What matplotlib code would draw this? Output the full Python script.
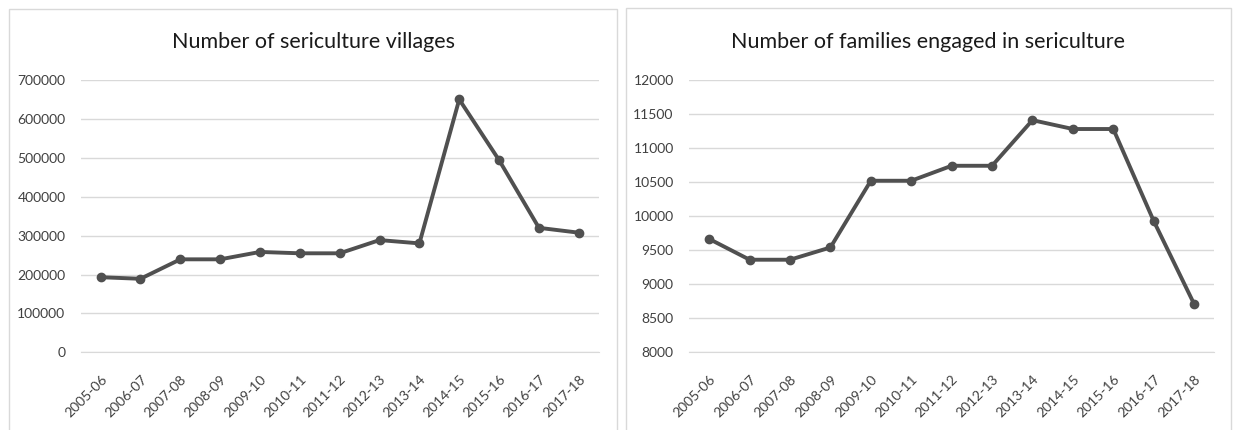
import matplotlib
matplotlib.use("Agg")
import matplotlib.pyplot as plt
from matplotlib.patches import Rectangle

years = ["2005-06", "2006-07", "2007-08", "2008-09", "2009-10", "2010-11", "2011-12",
         "2012-13", "2013-14", "2014-15", "2015-16", "2016-17", "2017-18"]
villages = [193000, 189000, 239000, 239000, 258000, 254500, 254500,
            288500, 280000, 650000, 494000, 320000, 307500]
families = [9665, 9360, 9360, 9540, 10520, 10520, 10740,
            10740, 11410, 11280, 11280, 9930, 8710]

title_left = "Number of sericulture villages"
title_right = "Number of families engaged in sericulture"

W, H = 1234, 430
plt.rcParams['font.family'] = ['Lato', 'DejaVu Sans']
fig = plt.figure(figsize=(W / 100, H / 100), dpi=100)

def px_axes(x0, x1, ytop, ybot):
    return fig.add_axes([x0 / W, 1 - ybot / H, (x1 - x0) / W, (ybot - ytop) / H])

# panel borders
for (x0, y0, x1, y1) in [(9, 9, 617.5, 440), (625.5, 8, 1231, 440)]:
    fig.patches.append(Rectangle((x0 / W, 1 - y1 / H), (x1 - x0) / W, (y1 - y0) / H,
                                 transform=fig.transFigure, fill=False,
                                 edgecolor="#d9d9d9", linewidth=1.0))

line_color = "#505050"
txt_color = "#404040"

def style(ax, vals, ymin, ymax, step):
    ax.plot(range(len(years)), vals, color=line_color, linewidth=2.8,
            marker="o", markersize=6, zorder=3)
    ax.set_xlim(-0.5, len(years) - 0.5)
    ax.set_ylim(ymin, ymax)
    ax.set_yticks(list(range(ymin, ymax + 1, step)))
    ax.set_xticks(range(len(years)))
    ax.set_xticklabels(years, rotation=45, ha="right", va="top", rotation_mode="anchor")
    ax.tick_params(axis="both", length=0, labelsize=10, labelcolor=txt_color)
    ax.tick_params(axis="y", pad=11)
    ax.tick_params(axis="x", pad=15)
    ax.grid(axis="y", color="#d9d9d9", linewidth=1.0)
    ax.set_axisbelow(True)
    for s in ax.spines.values():
        s.set_visible(False)
    ax.spines["bottom"].set_visible(True)
    ax.spines["bottom"].set_color("#d9d9d9")

ax1 = px_axes(80.7, 598.7, 80, 352.3)
style(ax1, villages, 0, 700000, 100000)
ax2 = px_axes(689, 1214.3, 80, 352.3)
style(ax2, families, 8000, 12000, 500)

fig.text(313 / W, 1 - 42 / H, title_left, ha="center", va="center", fontsize=15.5, color="#1a1a1a")
fig.text(928 / W, 1 - 42 / H, title_right, ha="center", va="center", fontsize=15.5, color="#1a1a1a")

fig.savefig("out.png", dpi=100, facecolor="white")
